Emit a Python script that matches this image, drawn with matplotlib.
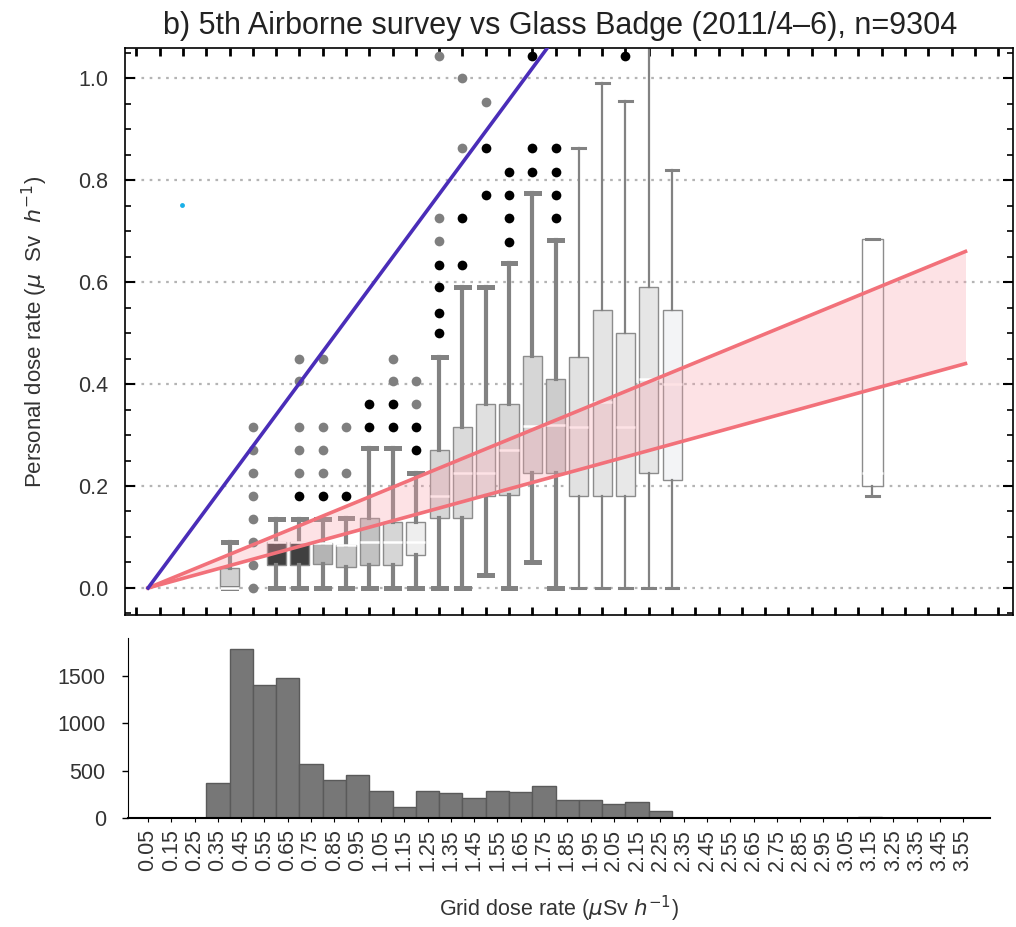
import numpy as np
import matplotlib
matplotlib.use('Agg')
import matplotlib.pyplot as plt
from matplotlib.ticker import MultipleLocator

plt.rcParams['font.family'] = ['Liberation Sans', 'DejaVu Sans']

# box-whisker summary per grid dose bin (uSv/h)
box_pos = [0.4, 0.6, 0.7, 0.8, 0.9, 1.0, 1.1, 1.2, 1.3, 1.4, 1.5, 1.6, 1.7, 1.8, 1.9, 2.0, 2.1, 2.2, 2.3, 3.16]
q1 = [0.0, 0.045, 0.045, 0.048, 0.042, 0.045, 0.045, 0.065, 0.137, 0.137, 0.18, 0.182, 0.225, 0.225, 0.18, 0.18, 0.18, 0.225, 0.212, 0.2]
med = [0.0, 0.09, 0.09, 0.088, 0.085, 0.09, 0.09, 0.09, 0.18, 0.225, 0.225, 0.27, 0.318, 0.32, 0.316, 0.365, 0.316, 0.41, 0.40, 0.225]
q3 = [0.04, 0.09, 0.09, 0.088, 0.085, 0.137, 0.13, 0.13, 0.27, 0.316, 0.36, 0.36, 0.454, 0.41, 0.453, 0.545, 0.5, 0.59, 0.545, 0.685]
w_lo = [0, 0, 0, 0, 0, 0, 0, 0, 0, 0, 0.025, 0, 0.05, 0, 0, 0, 0, 0, 0, 0.18]
w_hi = [0.09, 0.135, 0.135, 0.135, 0.137, 0.275, 0.275, 0.225, 0.453, 0.59, 0.59, 0.637, 0.774, 0.682, 0.863, 0.99, 0.955, 1.12, 0.82, 0.685]
box_col = ['#d0d0d0', '#404040', '#404040', '#b4b4b4', '#c8c8c8', '#c2c2c2', '#d6d6d6', '#eeeeee',
           '#d6d6d6', '#dadada', '#e0e0e0', '#d8d8d8', '#d6d6d6', '#cccccc', '#e2e2e2', '#e4e4e4',
           '#e8e8e8', '#e6e6e6', '#f3f4f6', '#ffffff']

# outliers
grey_x = [0.5]*8 + [0.7]*5 + [0.8]*4 + [0.9]*2 + [1.1]*2 + [1.2]*2 + [1.3]*3 + [1.4]*2 + [1.5]
grey_y = [0, 0.045, 0.09, 0.135, 0.18, 0.225, 0.27, 0.315,
          0.45, 0.405, 0.315, 0.27, 0.225,
          0.45, 0.315, 0.27, 0.225,
          0.315, 0.225,
          0.45, 0.405,
          0.405, 0.36,
          1.043, 0.725, 0.68,
          1.0, 0.863,
          0.954]
black_x = [0.7, 0.8, 0.9, 1.0, 1.0, 1.1, 1.1, 1.2, 1.2] + [1.3]*4 + [1.4]*2 + [1.5]*2 + [1.6]*4 + [1.7]*3 + [1.8]*4 + [2.1]
black_y = [0.18, 0.18, 0.18, 0.36, 0.315, 0.36, 0.315, 0.315, 0.27,
           0.633, 0.59, 0.54, 0.5,
           0.725, 0.633,
           0.863, 0.77,
           0.816, 0.77, 0.725, 0.678,
           1.043, 0.863, 0.816,
           0.863, 0.816, 0.77, 0.725,
           1.043]

# reference lines
line_x = [0.05, 3.56]
red_hi = [0.0, 0.66]
red_lo = [0.0, 0.44]
blue_x = [0.05, 1.85]
blue_y = [0.0, 1.112]

# histogram of grid dose rate
hist_left = [0.3, 0.4, 0.5, 0.6, 0.7, 0.8, 0.9, 1.0, 1.1, 1.2, 1.3, 1.4, 1.5, 1.6, 1.7, 1.8, 1.9, 2.0, 2.1, 2.2, 3.1]
hist_cnt = [365, 1780, 1400, 1480, 575, 405, 455, 285, 118, 285, 262, 215, 285, 270, 340, 190, 190, 145, 170, 72, 8]
tick_labels = ['%.2f' % (0.05 + 0.1 * i) for i in range(36)]

fig = plt.figure(figsize=(10.16, 9.27), dpi=100)
ax = fig.add_axes([125/1016, 1 - 615/927, 888/1016, 567/927])
axh = fig.add_axes([128/1016, 1 - 818/927, 862/1016, 180/927])

stats = []
for i in range(len(box_pos)):
    stats.append(dict(q1=q1[i], med=med[i], q3=q3[i], whislo=w_lo[i], whishi=w_hi[i], fliers=[]))
widths = [0.082]*19 + [0.09]
bp = ax.bxp(stats, positions=box_pos, widths=widths, patch_artist=True, showfliers=False,
            capwidths=[0.055]*len(box_pos), manage_ticks=False,
            boxprops=dict(edgecolor='#8c8c8c', linewidth=1.0),
            medianprops=dict(color='white', linewidth=1.8),
            whiskerprops=dict(color='#828282'), capprops=dict(color='#828282'))
for i, b in enumerate(bp['boxes']):
    b.set_facecolor(box_col[i])
    b.set_zorder(2)
    lw = 3.0 if box_pos[i] < 1.85 else 1.6
    for k in (2*i, 2*i+1):
        bp['whiskers'][k].set_linewidth(lw)
        bp['caps'][k].set_linewidth(lw + 0.6)

ax.plot(grey_x, grey_y, 'o', color='#7f7f7f', ms=7, mew=0, zorder=4)
ax.plot(black_x, black_y, 'o', color='black', ms=7, mew=0, zorder=4)
ax.fill_between(line_x, red_lo, red_hi, color='#f9a0ab', alpha=0.3, lw=0, zorder=3)
ax.plot(line_x, red_hi, color='#f2717a', lw=2.6, zorder=5)
ax.plot(line_x, red_lo, color='#f2717a', lw=2.6, zorder=5)
ax.plot(blue_x, blue_y, color='#4a2db8', lw=2.6, zorder=6)
ax.plot([0.196], [0.751], 'o', color='#1ab0e8', ms=3.5, mew=0, zorder=6)

ax.set_xlim(-0.049, 3.764)
ax.set_ylim(-0.053, 1.059)
ax.set_xticks(np.arange(0.0, 3.75, 0.1))
ax.set_xticklabels([])
ax.set_yticks([0.0, 0.2, 0.4, 0.6, 0.8, 1.0])
ax.set_yticklabels(['0.0', '0.2', '0.4', '0.6', '0.8', '1.0'], fontsize=15.5, color='#333333')
ax.yaxis.set_minor_locator(MultipleLocator(0.05))
ax.tick_params(axis='x', direction='in', top=True, bottom=True, length=6, width=2)
ax.tick_params(axis='y', which='major', direction='in', left=True, right=True, length=7, width=1.5, pad=12)
ax.tick_params(axis='y', which='minor', direction='in', left=True, right=True, length=4, width=1.2)
ax.yaxis.grid(True, linestyle=(0, (1.2, 2.5)), color='#b4b4b4', lw=1.6)
ax.set_axisbelow(True)
for s in ax.spines.values():
    s.set_linewidth(1.2)
ax.set_ylabel(r'Personal dose rate ($\mu$  Sv  $h^{-1}$)', fontsize=16, color='#333333', labelpad=20)
ax.set_title('b) 5th Airborne survey vs Glass Badge (2011/4\u20136), n=9304', fontsize=22,
             color='#222222', pad=10, x=0.49)

axh.bar(hist_left, hist_cnt, width=0.1, align='edge', color='#777777', edgecolor='#5a5a5a', lw=1)
axh.set_xlim(-0.036, 3.665)
axh.set_ylim(0, 1900)
axh.set_xticks(np.arange(0.05, 3.6, 0.1))
axh.set_xticklabels(tick_labels, rotation=90, fontsize=15.5, color='#333333')
axh.set_yticks([0, 500, 1000, 1500])
axh.set_yticklabels(['0', '500', '1000', '1500'], fontsize=15.5, color='#333333')
axh.tick_params(axis='x', direction='out', length=3, width=0.8, pad=5)
axh.tick_params(axis='y', direction='out', length=4, width=1, pad=12)
axh.spines['top'].set_visible(False)
axh.spines['right'].set_visible(False)
axh.spines['bottom'].set_linewidth(1.5)
axh.set_xlabel(r'Grid dose rate ($\mu$Sv $h^{-1}$)', fontsize=15.5, color='#333333', labelpad=16)

fig.savefig('out.png', dpi=100)
